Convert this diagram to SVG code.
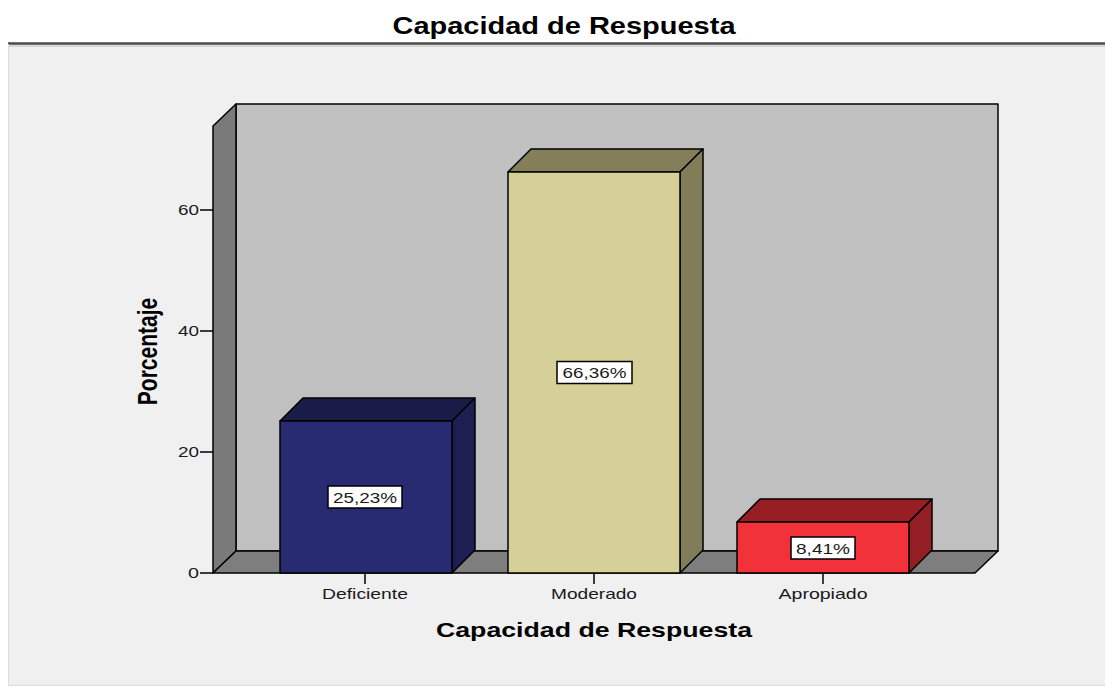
<svg xmlns="http://www.w3.org/2000/svg" width="1105" height="689" viewBox="0 0 1105 689">
<style>
.t{font-family:"Liberation Sans",Arial,sans-serif;fill:#1a1a1a}
.b{font-weight:bold;fill:#000}
.e{stroke:#000;stroke-width:1.5;stroke-linejoin:round}
.tk{stroke:#000;stroke-width:1.5}
.lb{fill:#fff;stroke:#000;stroke-width:1.5}
</style>
<rect x="0" y="0" width="1105" height="689" fill="#ffffff"/>
<rect x="8" y="44" width="1097" height="641" fill="#f0f0f0"/>
<line x1="8" y1="43.5" x2="1105" y2="43.5" stroke="#4a4a4a" stroke-width="2.5"/>
<line x1="8" y1="46" x2="1105" y2="46" stroke="#cfcfcf" stroke-width="1.5"/>
<line x1="8.5" y1="44" x2="8.5" y2="685" stroke="#dcdcdc" stroke-width="1"/>
<line x1="8" y1="685.5" x2="1105" y2="685.5" stroke="#dcdcdc" stroke-width="1"/>
<text class="t b" x="564" y="34" font-size="23" text-anchor="middle" textLength="343" lengthAdjust="spacingAndGlyphs">Capacidad de Respuesta</text>

<g id="walls">
<rect class="e" x="236" y="104" width="762" height="447" fill="#c0c0c0"/>
<polygon class="e" points="213,126 236,104 236,551 213,573" fill="#7a7a7a"/>
<polygon class="e" points="213,573 975,573 998,551 236,551" fill="#7e7e7e"/>
</g>

<g id="axes">
<line class="tk" x1="200" y1="573" x2="213" y2="573"/>
<line class="tk" x1="200" y1="452" x2="213" y2="452"/>
<line class="tk" x1="200" y1="331" x2="213" y2="331"/>
<line class="tk" x1="200" y1="210" x2="213" y2="210"/>
<text class="t" x="199" y="578" font-size="15" text-anchor="end" textLength="11" lengthAdjust="spacingAndGlyphs">0</text>
<text class="t" x="199" y="457" font-size="15" text-anchor="end" textLength="21" lengthAdjust="spacingAndGlyphs">20</text>
<text class="t" x="199" y="336" font-size="15" text-anchor="end" textLength="21" lengthAdjust="spacingAndGlyphs">40</text>
<text class="t" x="199" y="215" font-size="15" text-anchor="end" textLength="21" lengthAdjust="spacingAndGlyphs">60</text>
<line class="tk" x1="365" y1="573" x2="365" y2="584"/>
<line class="tk" x1="594" y1="573" x2="594" y2="584"/>
<line class="tk" x1="823" y1="573" x2="823" y2="584"/>
<text class="t" x="365" y="599" font-size="15" text-anchor="middle" textLength="86" lengthAdjust="spacingAndGlyphs">Deficiente</text>
<text class="t" x="594" y="599" font-size="15" text-anchor="middle" textLength="86" lengthAdjust="spacingAndGlyphs">Moderado</text>
<text class="t" x="823" y="599" font-size="15" text-anchor="middle" textLength="89" lengthAdjust="spacingAndGlyphs">Apropiado</text>
<text class="t b" x="594" y="637" font-size="21" text-anchor="middle" textLength="316" lengthAdjust="spacingAndGlyphs">Capacidad de Respuesta</text>
<text class="t b" transform="translate(157,351.5) scale(1.3,1) rotate(-90)" x="0" y="0" font-size="21" text-anchor="middle">Porcentaje</text>
</g>

<g id="bar-deficiente">
<polygon class="e" points="280,421 303,398 475,398 452,421" fill="#1a1b47"/>
<polygon class="e" points="452,421 475,398 475,550 452,573" fill="#1d1e52"/>
<rect class="e" x="280" y="421" width="172" height="152" fill="#282a72"/>
<rect class="lb" x="328" y="486" width="74" height="22"/>
<text class="t" x="365" y="502.5" font-size="14.5" text-anchor="middle" textLength="64" lengthAdjust="spacingAndGlyphs">25,23%</text>
</g>

<g id="bar-moderado">
<polygon class="e" points="508,172 531,149 703,149 680,172" fill="#847f5a"/>
<polygon class="e" points="680,172 703,149 703,550 680,573" fill="#827d59"/>
<rect class="e" x="508" y="172" width="172" height="401" fill="#d4d098"/>
<rect class="lb" x="557" y="361.5" width="75" height="22"/>
<text class="t" x="594.5" y="378" font-size="14.5" text-anchor="middle" textLength="64" lengthAdjust="spacingAndGlyphs">66,36%</text>
</g>

<g id="bar-apropiado">
<polygon class="e" points="737,522 760,499 932,499 909,522" fill="#971f24"/>
<polygon class="e" points="909,522 932,499 932,550 909,573" fill="#931f24"/>
<rect class="e" x="737" y="522" width="172" height="51" fill="#f2323b"/>
<rect class="lb" x="791" y="537" width="64" height="22"/>
<text class="t" x="823" y="553.5" font-size="14.5" text-anchor="middle" textLength="54" lengthAdjust="spacingAndGlyphs">8,41%</text>
</g>
</svg>
